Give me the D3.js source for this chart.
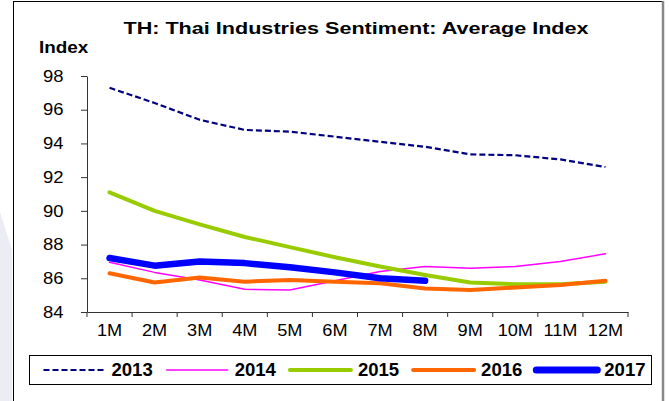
<!DOCTYPE html>
<html>
<head>
<meta charset="utf-8">
<script src="https://cdn.jsdelivr.net/npm/d3@7"></script>
<style>
  body { margin: 0; background: #fff; }
  text { font-family: "Liberation Sans", Arial, sans-serif; }
</style>
</head>
<body>
<div id="chart"></div>
<script>
// Data
var months = ["1M", "2M", "3M", "4M", "5M", "6M", "7M", "8M", "9M", "10M", "11M", "12M"];
var years = ["2013", "2014", "2015", "2016", "2017"];
var v2013 = [97.3, 96.4, 95.4, 94.8, 94.7, 94.4, 94.1, 93.8, 93.35, 93.3, 93.05, 92.6];
var v2014 = [86.95, 86.35, 85.9, 85.35, 85.3, 85.85, 86.4, 86.7, 86.6, 86.7, 87.0, 87.45];
var v2015 = [91.1, 90.0, 89.2, 88.45, 87.85, 87.25, 86.7, 86.2, 85.75, 85.65, 85.65, 85.8];
var v2016 = [86.3, 85.75, 86.05, 85.8, 85.9, 85.8, 85.7, 85.4, 85.3, 85.45, 85.6, 85.85];
var v2017 = [87.2, 86.75, 87.0, 86.9, 86.65, 86.35, 86.0, 85.85];
var yTicks = [84, 86, 88, 90, 92, 94, 96, 98];

var W = 669, H = 401;
var plotLeft = 87, plotRight = 628, plotTop = 76, plotBottom = 312;

var series = [
  {name: years[0], values: v2013, color: "#000080", width: 2.2, dash: "6,3"},
  {name: years[1], values: v2014, color: "#ff00ff", width: 1.5, dash: null},
  {name: years[2], values: v2015, color: "#99cc00", width: 4, dash: null},
  {name: years[3], values: v2016, color: "#ff6600", width: 4, dash: null},
  {name: years[4], values: v2017, color: "#0000ff", width: 6.5, dash: null}
];

var svg = d3.select("#chart").append("svg")
    .attr("width", W)
    .attr("height", H)
    .style("display", "block");

svg.append("rect").attr("width", W).attr("height", H).attr("fill", "#fff");

// faint watermark at the left edge
svg.append("polygon")
    .attr("points", "0,212 12,250 12,401 0,401")
    .attr("fill", "#ececf5");

// frame
svg.append("line").attr("x1", 13.5).attr("y1", 1.5).attr("x2", 13.5).attr("y2", H)
    .attr("stroke", "#000").attr("stroke-width", 1);
svg.append("line").attr("x1", 13).attr("y1", 1.5).attr("x2", 663).attr("y2", 1.5)
    .attr("stroke", "#000").attr("stroke-width", 1);
svg.append("line").attr("x1", 663).attr("y1", 1).attr("x2", 663).attr("y2", H)
    .attr("stroke", "#888").attr("stroke-width", 2.5);

// scales
var x = d3.scaleBand().domain(months).range([plotLeft, plotRight]).paddingInner(0).paddingOuter(0);
var y = d3.scaleLinear().domain([84, 98]).range([plotBottom, plotTop]);
var bw = x.bandwidth();

// y axis
var yAxis = svg.append("g")
    .attr("transform", "translate(" + plotLeft + ",0)")
    .call(d3.axisLeft(y).tickValues(yTicks).tickSize(6).tickSizeOuter(0).tickPadding(15));
yAxis.select(".domain").attr("stroke", "#333");
yAxis.selectAll(".tick line").attr("stroke", "#333");
yAxis.selectAll(".tick text")
    .attr("font-size", "16.5px")
    .attr("fill", "#000")
    .attr("transform", "scale(1.12,1)");

// x axis: labels centred in bands, ticks on band edges
var xAxis = svg.append("g")
    .attr("transform", "translate(0," + plotBottom + ")")
    .call(d3.axisBottom(x).tickSize(0).tickSizeOuter(0).tickPadding(12));
xAxis.select(".domain").attr("stroke", "#333");
xAxis.selectAll(".tick text")
    .attr("font-size", "16.5px")
    .attr("fill", "#000")
    .attr("transform", "scale(1.1,1)");

var edges = months.map(function(m) { return x(m); }).concat([plotRight]);
xAxis.selectAll(".edge")
    .data(edges)
    .enter().append("line")
    .attr("class", "edge")
    .attr("x1", function(d) { return d; })
    .attr("x2", function(d) { return d; })
    .attr("y1", 0)
    .attr("y2", 5)
    .attr("stroke", "#333");

// series lines
var line = d3.line()
    .x(function(d, i) { return x(months[i]) + bw / 2; })
    .y(function(d) { return y(d); });

series.forEach(function(s) {
  svg.append("path")
      .datum(s.values)
      .attr("fill", "none")
      .attr("stroke", s.color)
      .attr("stroke-width", s.width)
      .attr("stroke-dasharray", s.dash)
      .attr("stroke-linejoin", "round")
      .attr("stroke-linecap", s.dash ? "butt" : "round")
      .attr("d", line);
});

// title and axis name
svg.append("text")
    .attr("transform", "translate(356,34) scale(1.35,1)")
    .attr("text-anchor", "middle")
    .attr("font-size", "16px")
    .attr("font-weight", "bold")
    .text("TH: Thai Industries Sentiment: Average Index");

svg.append("text")
    .attr("transform", "translate(39,53) scale(1.18,1)")
    .attr("font-size", "16px")
    .attr("font-weight", "bold")
    .text("Index");

// legend
var legend = svg.append("g");
legend.append("rect")
    .attr("x", 29.5).attr("y", 355.5)
    .attr("width", 622).attr("height", 29)
    .attr("fill", "#fff")
    .attr("stroke", "#000");

var item = legend.selectAll(".item")
    .data(series)
    .enter().append("g")
    .attr("class", "item")
    .attr("transform", function(d, i) { return "translate(" + (43.5 + i * 123.2) + ",370)"; });

item.append("line")
    .attr("x1", 0).attr("x2", 61)
    .attr("y1", 0).attr("y2", 0)
    .attr("stroke", function(d) { return d.color; })
    .attr("stroke-width", function(d) { return d.name === "2017" ? 7 : d.width; })
    .attr("stroke-dasharray", function(d) { return d.dash; })
    .attr("stroke-linecap", function(d) { return d.dash ? "butt" : "round"; });

item.append("text")
    .attr("transform", "translate(68,6) scale(1.06,1)")
    .attr("font-size", "17.5px")
    .attr("font-weight", "bold")
    .text(function(d) { return d.name; });
</script>
</body>
</html>
